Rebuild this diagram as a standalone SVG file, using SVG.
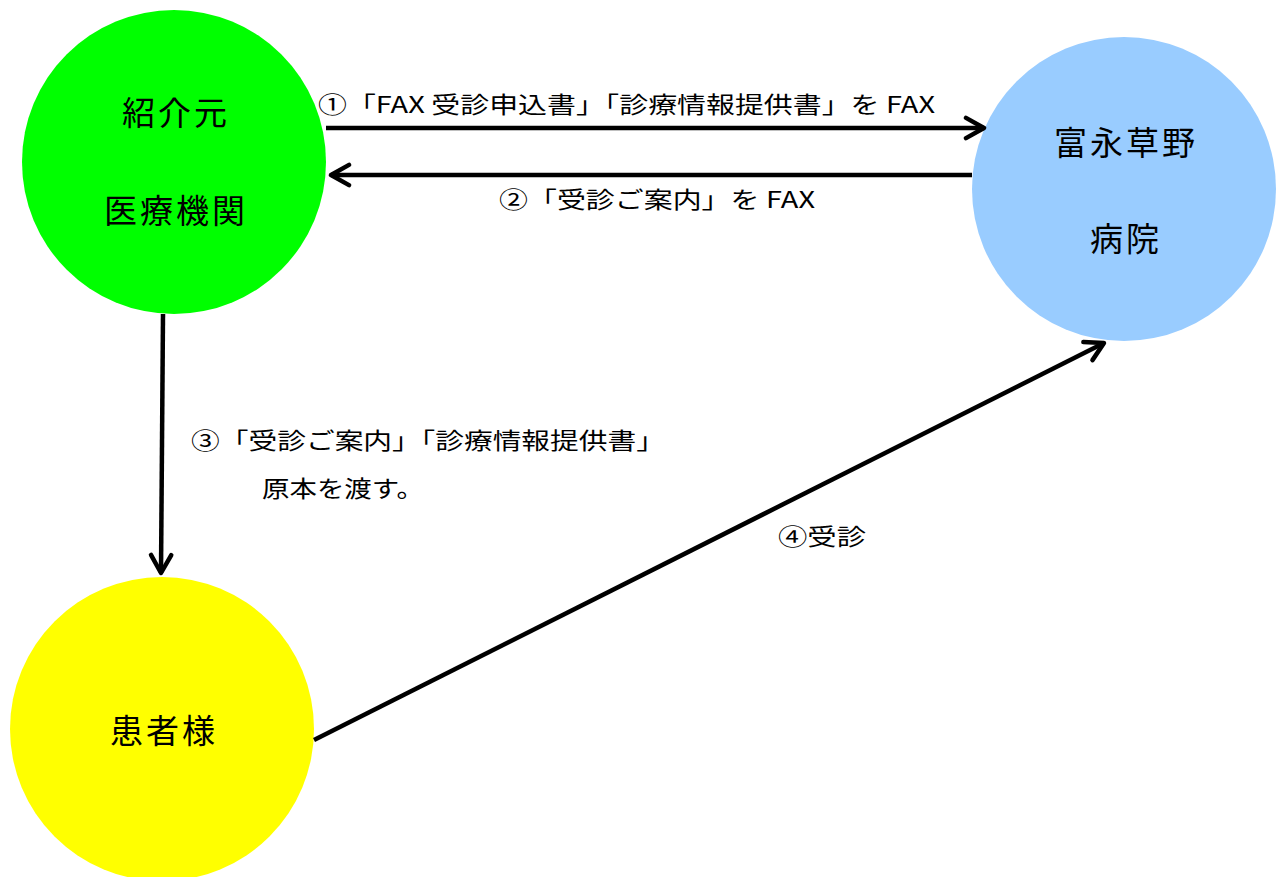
<svg xmlns="http://www.w3.org/2000/svg" width="1279" height="877" viewBox="0 0 1279 877">
<defs>
<style>
.node text{font-family:"Noto Sans CJK JP","Noto Sans",sans-serif;font-size:33px;letter-spacing:3px;fill:#000;text-anchor:middle}
.lbl{font-family:"Noto Sans CJK JP","Noto Sans",sans-serif;font-size:23px;fill:#000}
.edge{stroke:#000;stroke-width:4.5;fill:none}
</style>
<marker id="ah" viewBox="0 0 12 12" refX="10" refY="6" markerWidth="6" markerHeight="6" markerUnits="strokeWidth" orient="auto">
<path d="M2,1.5 L10,6 L2,10.5" fill="none" stroke="#000" stroke-width="2" stroke-linecap="round" stroke-linejoin="round"/>
</marker>
</defs>
<rect width="1279" height="877" fill="#fff"/>
<g id="node-referrer" class="node">
<circle cx="174" cy="162" r="152" fill="#00ff00"/>
<text x="176" y="125">紹介元</text>
<text x="176" y="223">医療機関</text>
</g>
<g id="node-hospital" class="node">
<circle cx="1124" cy="189" r="152" fill="#99ccff"/>
<text x="1126" y="155">富永草野</text>
<text x="1126" y="251">病院</text>
</g>
<g id="node-patient" class="node">
<circle cx="162" cy="729" r="152" fill="#ffff00"/>
<text x="164" y="743">患者様</text>
</g>
<g id="connectors">
<line class="edge" x1="326" y1="128" x2="984" y2="128" marker-end="url(#ah)"/>
<line class="edge" x1="972" y1="175" x2="331" y2="175" marker-end="url(#ah)"/>
<line class="edge" x1="163" y1="314" x2="161" y2="573" marker-end="url(#ah)"/>
<line class="edge" x1="314" y1="740" x2="1104" y2="343" marker-end="url(#ah)"/>
</g>
<g id="labels">
<text class="lbl" x="318" y="113" textLength="617" lengthAdjust="spacingAndGlyphs">①「FAX 受診申込書」「診療情報提供書」を FAX</text>
<text class="lbl" x="499" y="208" textLength="316" lengthAdjust="spacingAndGlyphs">②「受診ご案内」を FAX</text>
<text class="lbl" x="191" y="449" textLength="474" lengthAdjust="spacingAndGlyphs">③「受診ご案内」「診療情報提供書」</text>
<text class="lbl" x="262" y="497" textLength="162" lengthAdjust="spacingAndGlyphs">原本を渡す。</text>
<text class="lbl" x="778" y="545" textLength="88" lengthAdjust="spacingAndGlyphs">④受診</text>
</g>
</svg>
